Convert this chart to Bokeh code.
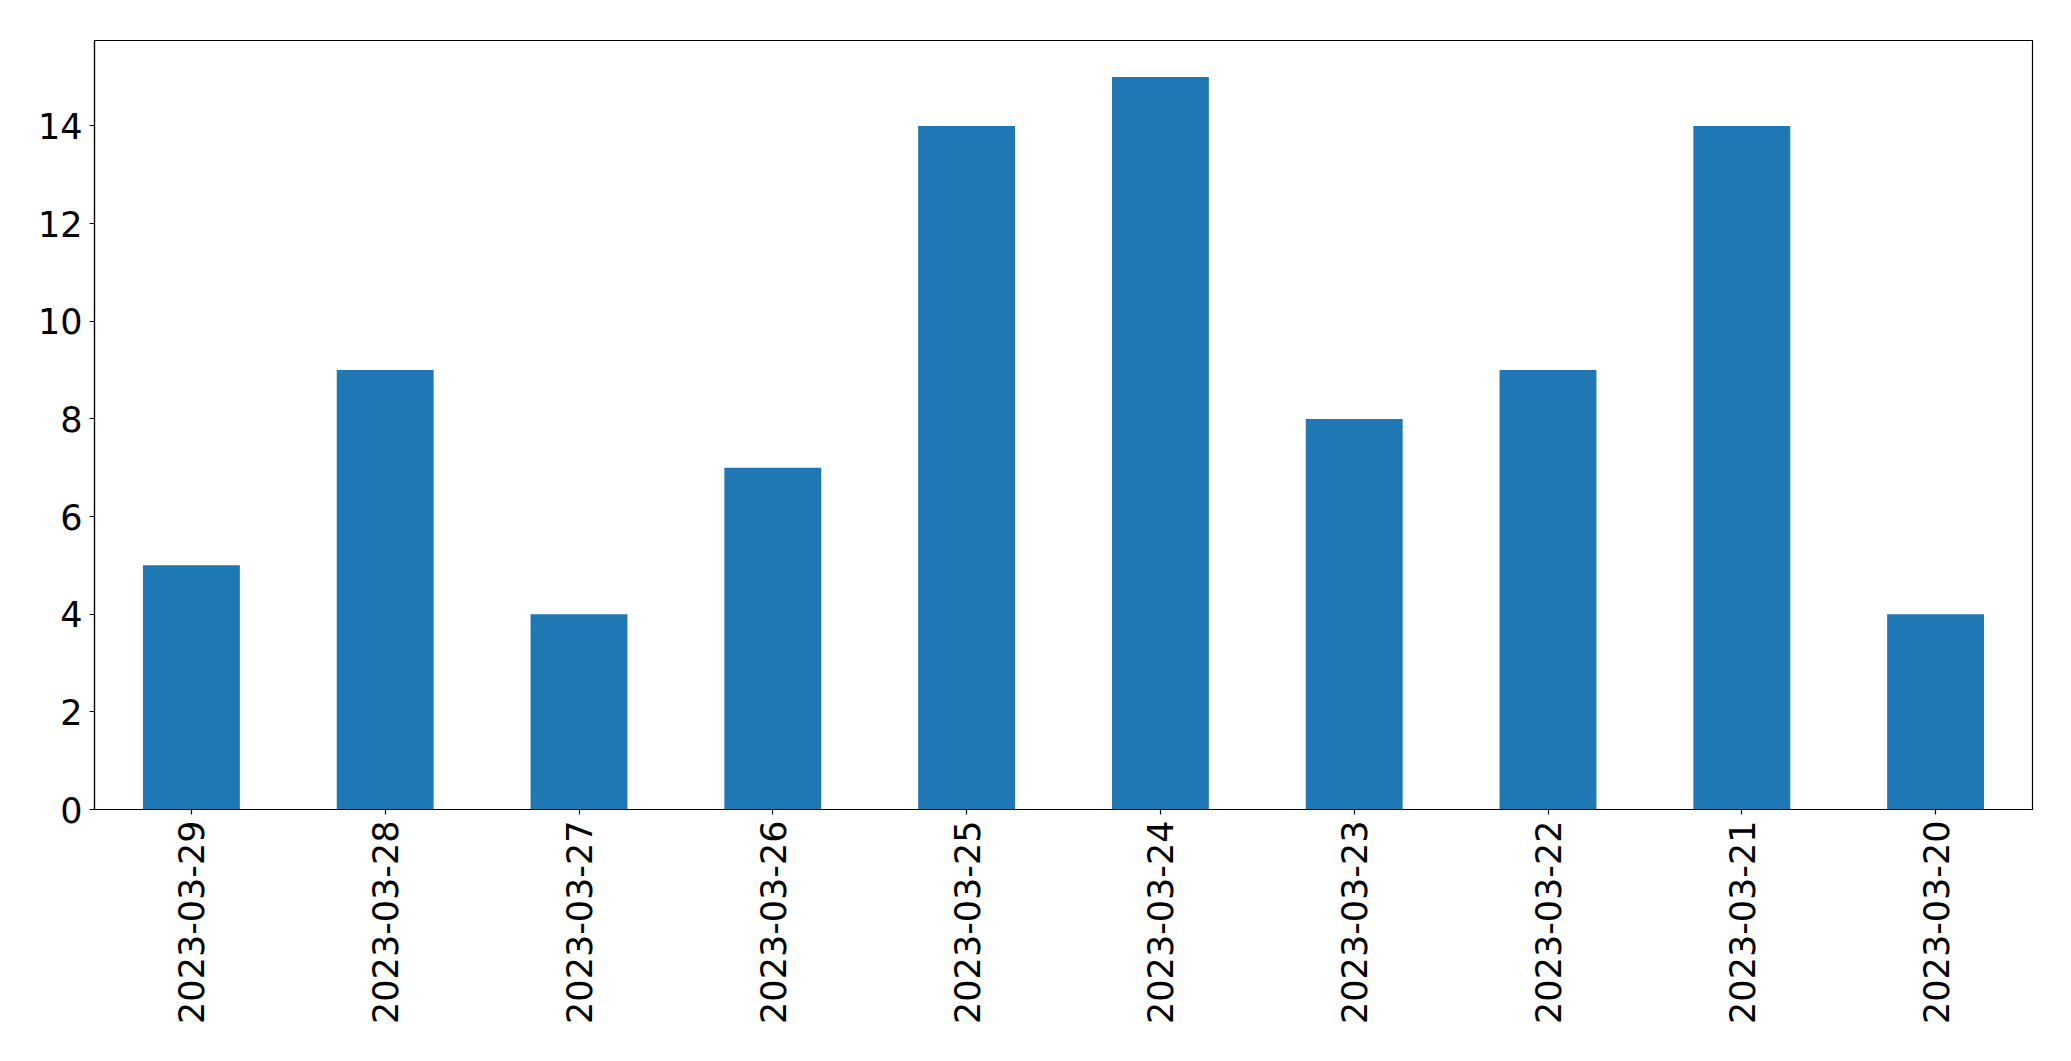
import math
from bokeh.plotting import figure
from bokeh.models import FactorRange, Range1d, FixedTicker, ColumnDataSource
from bokeh.embed import file_html
from bokeh.resources import INLINE

dates = ["2023-03-29", "2023-03-28", "2023-03-27", "2023-03-26", "2023-03-25",
         "2023-03-24", "2023-03-23", "2023-03-22", "2023-03-21", "2023-03-20"]
counts = [5, 9, 4, 7, 14, 15, 8, 9, 14, 4]
y_ticks = [0, 2, 4, 6, 8, 10, 12, 14]

src = ColumnDataSource(dict(date=dates, count=counts))

p = figure(width=2055, height=1045, output_backend="svg", toolbar_location=None,
           x_range=FactorRange(factors=dates, range_padding=0),
           y_range=Range1d(0, max(counts) * 1.05),
           min_border_left=94, min_border_top=40, min_border_right=23,
           min_border_bottom=236)

p.vbar(x="date", top="count", width=0.5, source=src, fill_color="#1f77b4",
       line_color=None)

p.xgrid.visible = False
p.ygrid.visible = False
p.outline_line_color = "black"
p.outline_line_width = 1.2
p.outline_line_alpha = 1

for ax in (p.xaxis[0], p.yaxis[0]):
    ax.axis_line_color = "black"
    ax.axis_line_width = 1.2
    ax.major_tick_out = 5
    ax.major_tick_in = 0
    ax.major_tick_line_color = "black"
    ax.major_tick_line_width = 1.2
    ax.minor_tick_line_color = None
    ax.major_label_text_font = "DejaVu Sans"
    ax.major_label_text_font_size = "35px"
    ax.major_label_text_color = "black"

p.yaxis.ticker = FixedTicker(ticks=y_ticks)
p.yaxis.major_label_standoff = 7
p.xaxis.major_label_orientation = math.pi / 2
p.xaxis.major_label_standoff = 6

open("out.html", "w").write(file_html(p, INLINE))
